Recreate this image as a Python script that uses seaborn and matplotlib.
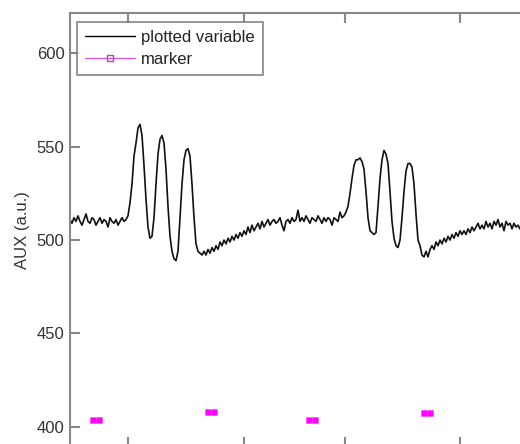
import numpy as np
import pandas as pd
import seaborn as sns
import matplotlib
matplotlib.use("Agg")
import matplotlib.pyplot as plt
from matplotlib.lines import Line2D

# AUX signal, one sample every 0.2 s
baseline_1 = [511, 509, 512, 510, 513, 510, 508, 511, 514, 510, 509, 512, 511, 508, 510,
              512, 509, 511, 510, 507, 512, 510, 509, 511, 508, 510, 512, 510, 511]
burst_1 = [513, 520, 530, 545, 552, 560, 562, 556, 540, 522, 507, 501, 502, 512, 530,
           546, 554, 556, 552, 538, 518, 502, 494, 490, 489, 494, 512, 530, 543, 548,
           549, 545, 530, 512, 498, 494, 493, 492, 494, 492, 495, 493]
recovery_1 = [496, 494, 497, 495, 499, 497, 500, 498, 501, 499, 502, 500, 503, 501, 504,
              502, 505, 503, 507, 504, 508, 505, 507, 509, 506, 510, 507, 509, 511, 508,
              510, 511, 509, 510, 512, 508, 505, 510, 511, 509, 512, 510, 511, 516, 510]
baseline_2 = [512, 510, 513, 511, 509, 512, 511, 510, 513, 511, 509, 512, 510, 512, 511,
              508, 512, 511, 510, 515, 512]
burst_2 = [513, 515, 518, 525, 533, 540, 543, 543, 544, 542, 538, 526, 512, 505, 504,
           503, 504, 518, 533, 543, 548, 546, 541, 526, 510, 501, 497, 496, 500, 512,
           526, 537, 541, 541, 539, 530, 514, 500, 497, 492, 491, 494, 491, 495]
recovery_2 = [497, 495, 499, 497, 500, 498, 501, 499, 502, 500, 503, 501, 504, 502, 505,
              503, 505, 503, 506, 504, 507, 505, 507, 509, 506, 508, 506, 510, 507, 509,
              506, 510, 508, 511, 507, 509, 505, 510, 508, 509, 506, 509, 507, 508, 506]

aux = baseline_1 + burst_1 + recovery_1 + baseline_2 + burst_2 + recovery_2
t = np.arange(len(aux)) * 0.2

# marker events (each drawn as a pair of squares)
marker_t = [2.3, 2.9, 13.8, 14.4, 23.85, 24.45, 35.4, 36.0]
marker_y = [403.8, 403.8, 407.8, 407.8, 403.4, 403.4, 407.5, 407.5]

xtick_pos = [5.83, 17.43, 27.5, 39.0]
ytick_pos = [400, 450, 500, 550, 600]

df = pd.DataFrame({"t": t, "aux": aux})
mk = pd.DataFrame({"t": marker_t, "y": marker_y})

sns.set_theme(style="ticks")
plt.rcParams["font.family"] = ["Liberation Sans", "DejaVu Sans"]

fig = plt.figure(figsize=(5.2, 4.44), dpi=100)
ax = fig.add_axes([70 / 520, -3 / 444, 470 / 520, 434 / 444])

sns.lineplot(data=df, x="t", y="aux", ax=ax, color="#111111", linewidth=1.2)
sns.scatterplot(data=mk, x="t", y="y", ax=ax, marker="s", s=24, color="#ff00ff",
                edgecolor="#ff44ff", linewidth=0.4, zorder=3)

ax.set_xlim(0, 47)
ax.set_ylim(389.2, 621.6)
ax.set_xticks(xtick_pos)
ax.set_xticklabels([])
ax.set_yticks(ytick_pos)
ax.set_xlabel("")
ax.set_ylabel("AUX (a.u.)", fontsize=12, color="#333333", labelpad=5)

grey = "#888888"
for side in ["left", "top", "bottom", "right"]:
    ax.spines[side].set_color(grey)
    ax.spines[side].set_linewidth(1.5)
ax.tick_params(axis="both", direction="in", length=7, width=1.5, color=grey,
               labelsize=12, labelcolor="#333333", top=True, pad=4)

handles = [
    Line2D([], [], color="black", linewidth=1.0, label="plotted variable"),
    Line2D([], [], color="#d060d0", linewidth=1.0, marker="s", markersize=5,
           markerfacecolor="none", markeredgecolor="#c040c0", label="marker"),
]
leg = ax.legend(handles=handles, loc="upper left", bbox_to_anchor=(7 / 470, 1 - 9 / 434),
                borderaxespad=0, fontsize=12, frameon=True, fancybox=False,
                handlelength=3.0, handletextpad=0.35, labelspacing=0.4, borderpad=0.5)
leg.get_frame().set_edgecolor("#666666")
leg.get_frame().set_linewidth(1.2)
for txt in leg.get_texts():
    txt.set_color("#222222")

fig.savefig("out.png", dpi=100)
